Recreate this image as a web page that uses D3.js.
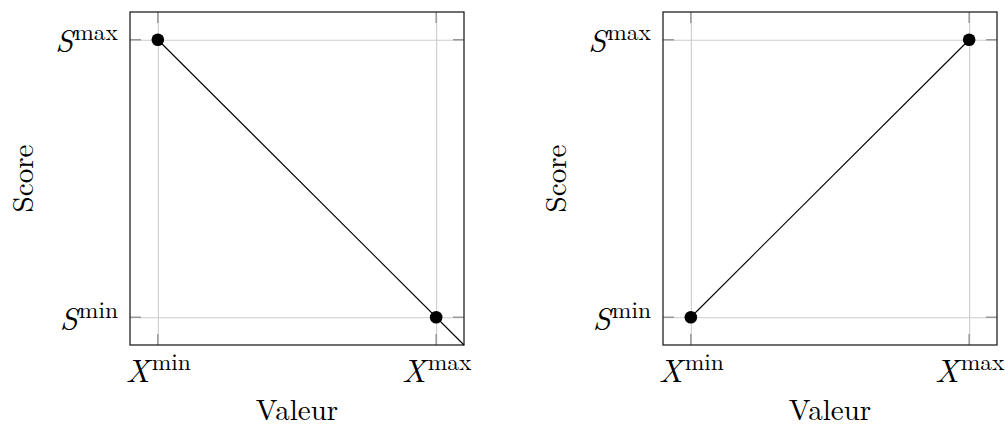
<!DOCTYPE html>
<html lang="fr">
<head>
<meta charset="UTF-8" />
<title>Score / Valeur</title>
<script src="https://cdn.jsdelivr.net/npm/d3@7"></script>
<style>
  body { margin: 0; padding: 0; background: #fff; }
</style>
</head>
<body>
<svg width="1005" height="425"></svg>
<script>
// data
var xTicks = [0, 1];
var xTickMain = ['X', 'X'];
var xTickSup = ['min', 'max'];
var yTicks = [0, 1];
var yTickMain = ['S', 'S'];
var yTickSup = ['min', 'max'];
var domain = [-0.1, 1.1];

// left: decreasing score, line runs on to the bottom-right corner
var leftLine = [[0, 1], [1.1, -0.1]];
var leftPoints = [[0, 1], [1, 0]];
// right: increasing score
var rightLine = [[0, 0], [1, 1]];
var rightPoints = [[0, 0], [1, 1]];

var xLabel = 'Valeur';
var yLabel = 'Score';

var svg = d3.select('svg');
var serif = '"Latin Modern Roman", "Liberation Serif", serif';
var w = 334, h = 333, marginTop = 12;

function panel(left, lineData, pointData) {
  var x = d3.scaleLinear().domain(domain).range([0, w]);
  var y = d3.scaleLinear().domain(domain).range([h, 0]);
  var g = svg.append('g').attr('transform', 'translate(' + left + ',' + marginTop + ')');

  // grid via axes
  var gx = g.append('g').attr('transform', 'translate(0,' + h + ')')
    .call(d3.axisBottom(x).tickValues(xTicks).tickSize(-h).tickFormat(''));
  var gy = g.append('g')
    .call(d3.axisLeft(y).tickValues(yTicks).tickSize(-w).tickFormat(''));
  [gx, gy].forEach(function (a) {
    a.select('.domain').remove();
    a.selectAll('.tick text').remove();
    a.selectAll('.tick line').attr('stroke', '#cccccc').attr('stroke-width', 1.1);
  });

  // short tick marks inside the frame
  var tl = 11;
  xTicks.forEach(function (v) {
    g.append('line').attr('x1', x(v)).attr('x2', x(v)).attr('y1', h - tl).attr('y2', h)
      .attr('stroke', '#999').attr('stroke-width', 1.5);
    g.append('line').attr('x1', x(v)).attr('x2', x(v)).attr('y1', 0).attr('y2', tl)
      .attr('stroke', '#999').attr('stroke-width', 1.5);
  });
  yTicks.forEach(function (v) {
    g.append('line').attr('y1', y(v)).attr('y2', y(v)).attr('x1', 0).attr('x2', tl)
      .attr('stroke', '#999').attr('stroke-width', 1.5);
    g.append('line').attr('y1', y(v)).attr('y2', y(v)).attr('x1', w - tl).attr('x2', w)
      .attr('stroke', '#999').attr('stroke-width', 1.5);
  });

  // tick labels (math style: italic letter + upright superscript)
  gx.selectAll('.tick').each(function (d, i) {
    var t = d3.select(this).append('text')
      .attr('y', 37).attr('text-anchor', 'middle')
      .style('font-family', serif).style('font-size', '32px').attr('fill', '#000');
    t.append('tspan').style('font-style', 'italic').text(xTickMain[i]);
    t.append('tspan').style('font-size', '23.5px').attr('dy', -12).attr('dx', 2).text(xTickSup[i]);
  });
  gy.selectAll('.tick').each(function (d, i) {
    var t = d3.select(this).append('text')
      .attr('x', -12).attr('y', 12).attr('text-anchor', 'end')
      .style('font-family', serif).style('font-size', '32px').attr('fill', '#000');
    t.append('tspan').style('font-style', 'italic').text(yTickMain[i]);
    t.append('tspan').style('font-size', '23.5px').attr('dy', -12).attr('dx', 1).text(yTickSup[i]);
  });

  // frame
  g.append('rect').attr('width', w).attr('height', h)
    .attr('fill', 'none').attr('stroke', '#222').attr('stroke-width', 1.3);

  // line and markers
  g.append('path').datum(lineData)
    .attr('d', d3.line().x(function (d) { return x(d[0]); }).y(function (d) { return y(d[1]); }))
    .attr('fill', 'none').attr('stroke', '#000').attr('stroke-width', 1.1);
  g.selectAll('circle.pt').data(pointData).join('circle')
    .attr('class', 'pt')
    .attr('cx', function (d) { return x(d[0]); })
    .attr('cy', function (d) { return y(d[1]); })
    .attr('r', 6.3).attr('fill', '#000');

  // axis titles
  g.append('text').attr('x', w / 2).attr('y', 408).attr('text-anchor', 'middle')
    .style('font-family', serif).style('font-size', '29px').text(xLabel);
  g.append('text').attr('transform', 'translate(-97,' + (h / 2) + ') rotate(-90)')
    .attr('text-anchor', 'middle')
    .style('font-family', serif).style('font-size', '29px').text(yLabel);
}

panel(130, leftLine, leftPoints);
panel(663, rightLine, rightPoints);
</script>
</body>
</html>
